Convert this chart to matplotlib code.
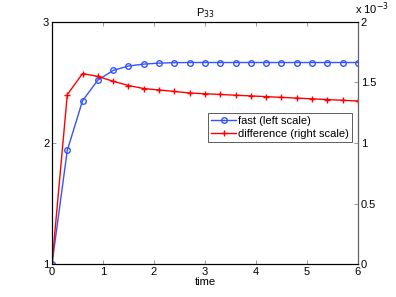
import numpy as np
import matplotlib
matplotlib.use('Agg')
from matplotlib import pyplot as plt

# time grid and the two series
time = [0, 0.3, 0.6, 0.9, 1.2, 1.5, 1.8, 2.1, 2.4, 2.7, 3.0,
        3.3, 3.6, 3.9, 4.2, 4.5, 4.8, 5.1, 5.4, 5.7, 6.0]
fast = [1.0, 1.94, 2.35, 2.52, 2.60, 2.636, 2.652, 2.66, 2.664, 2.665, 2.665,
        2.665, 2.665, 2.665, 2.665, 2.665, 2.665, 2.665, 2.665, 2.665, 2.665]
difference = [0.0, 1.40, 1.574, 1.55, 1.51, 1.475, 1.45, 1.438, 1.426, 1.413, 1.407,
              1.401, 1.395, 1.389, 1.383, 1.377, 1.371, 1.365, 1.359, 1.353, 1.347]  # x 1e-3

plt.rcParams['font.family'] = ['Liberation Sans', 'DejaVu Sans']
plt.rcParams['font.size'] = 8

fig = plt.figure(figsize=(3.96, 2.97), dpi=100)
ax = fig.add_axes([0.1313, 0.111, 0.7727, 0.815])
ax2 = ax.twinx()

l1, = ax.plot(time, fast, '-o', color='#3355ff', lw=1, ms=4, mfc='none', mew=1)
l2, = ax2.plot(time, np.array(difference) * 1e-3, '-+', color='red', lw=1, ms=4, mew=1)

ax.set_xlim(0, 6)
ax.set_ylim(1, 3)
ax.set_xticks(range(7))
ax.set_yticks([1, 2, 3])
ax2.set_ylim(0, 2e-3)
ax2.set_yticks([0, 0.5e-3, 1e-3, 1.5e-3, 2e-3])
ax2.set_yticklabels(['0', '0.5', '1', '1.5', '2'])
ax2.text(0.99, 1.02, r'x 10$^{-3}$', transform=ax2.transAxes, ha='left', va='bottom',
         fontsize=8)

for a in (ax, ax2):
    a.tick_params(direction='in', length=3, width=0.6, pad=2, color='#888888')
ax.tick_params(top=True)
for s in ax.spines.values():
    s.set_linewidth(0.8)
ax2.spines['right'].set_color('#666666')

ax.set_xlabel('time', labelpad=0)
ax.set_title(r'P$_{33}$', fontsize=8, pad=4)

leg = ax.legend([l1, l2], ['fast (left scale)', 'difference (right scale)'],
                loc='upper left', bbox_to_anchor=(0.51, 0.624), borderaxespad=0,
                fancybox=False, framealpha=1, edgecolor='#444444', fontsize=8,
                borderpad=0.3, handlelength=2.2, handletextpad=0.2,
                labelspacing=0.2, numpoints=1)
leg.get_frame().set_linewidth(0.6)

fig.savefig('out.png', dpi=100)
